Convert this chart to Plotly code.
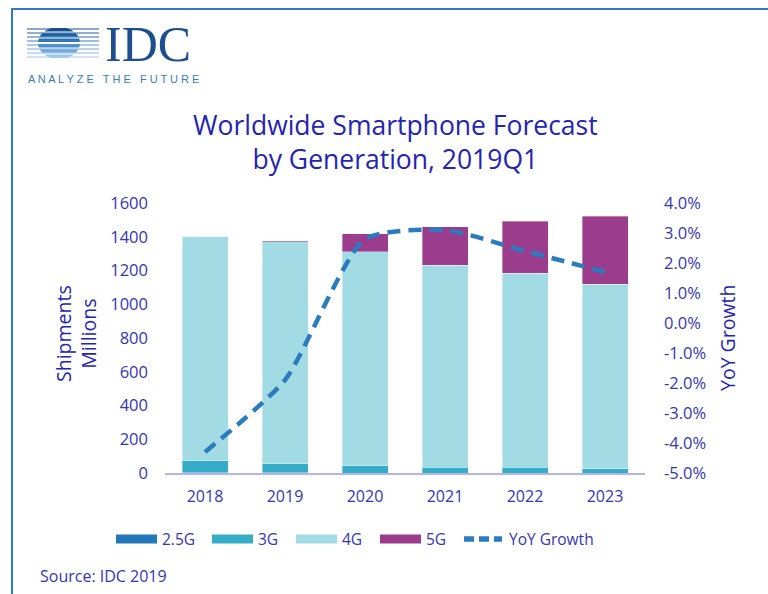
import math
import plotly.graph_objects as go

# Shipments by generation (millions) and YoY growth (%)
years = ["2018", "2019", "2020", "2021", "2022", "2023"]
g25 = [1, 1, 0, 0, 0, 0]
g3 = [73, 53, 43, 33, 33, 26]
g4 = [1330, 1317, 1267, 1197, 1150, 1094]
g5 = [0, 6, 108, 230, 310, 401]
yoy = [-4.3, -1.9, 2.8, 3.1, 2.4, 1.7]

# Right-axis ticks (percent)
pct_ticks = [-5, -4, -3, -2, -1, 0, 1, 2, 3, 4]
pct_labels = ["-5.0%", "-4.0%", "-3.0%", "-2.0%", "-1.0%", "0.0%", "1.0%", "2.0%", "3.0%", "4.0%"]

series_names = ["2.5G", "3G", "4G", "5G"]
series_colors = ["#2278b9", "#36adc8", "#a3dbe5", "#9b3c8c"]
line_color = "#2a7bbf"
text_color = "#3535b8"
title_color = "#2424b4"
font_family = "Open Sans, Noto Sans, sans-serif"

W, H = 768, 594
L, R, T, B = 165, 645, 203, 473

fig = go.Figure()
for name, vals, col in zip(series_names, [g25, g3, g4, g5], series_colors):
    fig.add_trace(go.Bar(
        x=years, y=vals, name=name,
        marker=dict(color=col, line=dict(color="rgba(255,255,255,0.6)", width=0.6)),
        showlegend=False, yaxis="y",
    ))
fig.add_trace(go.Scatter(
    x=years, y=yoy, name="YoY Growth", mode="lines", yaxis="y2",
    line=dict(color=line_color, width=4.5, dash="13px,8px", shape="spline", smoothing=0.6),
    showlegend=False,
))


def px_x(v):
    return (v - L) / (R - L)


def px_y(v):
    return (B - v) / (B - T)


shapes = []
annotations = []

# Frame lines
shapes.append(dict(type="line", xref="paper", yref="paper", x0=px_x(12), x1=px_x(12),
                   y0=px_y(9), y1=px_y(600), line=dict(color="#2e7bc4", width=2)))
shapes.append(dict(type="line", xref="paper", yref="paper", x0=px_x(11), x1=px_x(770),
                   y0=px_y(9), y1=px_y(9), line=dict(color="#2e7bc4", width=2)))

# Logo: striped globe with horizontal rules
cx, cy, rx, ry = 59, 43, 21, 16
band_cols = ["#1b4f8f", "#1d5fa0", "#2a70b5", "#4a8ccb", "#74a9dc", "#9cc5ea"]
n = len(band_cols)
edges = [cy - ry + i * (2 * ry) / n for i in range(n + 1)]
for i, col in enumerate(band_cols):
    y0, y1 = edges[i] + 0.9, edges[i + 1] - 0.9
    pts_l, pts_r = [], []
    steps = 6
    for k in range(steps + 1):
        yy = y0 + (y1 - y0) * k / steps
        dx = rx * math.sqrt(max(0.0, 1 - ((yy - cy) / ry) ** 2))
        pts_r.append((cx + dx, yy))
        pts_l.append((cx - dx, yy))
    pts = pts_r + pts_l[::-1]
    path = "M " + " L ".join(f"{px_x(a):.5f},{px_y(b):.5f}" for a, b in pts) + " Z"
    shapes.append(dict(type="path", xref="paper", yref="paper", path=path,
                       fillcolor=col, line=dict(width=0)))
rule_ys = [29, 33, 37, 41, 45, 49, 53, 57]
rule_cols = ["#1b4f8f", "#1d5fa0", "#2a70b5", "#3a80c2", "#5a98d2", "#74a9dc", "#8cbbe4", "#a4cbec"]
for yy, col in zip(rule_ys, rule_cols):
    shapes.append(dict(type="line", xref="paper", yref="paper", x0=px_x(27), x1=px_x(99),
                       y0=px_y(yy), y1=px_y(yy), line=dict(color=col, width=1)))

annotations.append(dict(text="IDC", xref="paper", yref="paper", x=px_x(103), y=px_y(44),
                        xanchor="left", yanchor="middle", showarrow=False,
                        font=dict(family="Liberation Serif, DejaVu Serif, serif", size=50, color="#1b4f8f")))
annotations.append(dict(text="A N A L Y Z E   T H E   F U T U R E", xref="paper", yref="paper",
                        x=px_x(26), y=px_y(78.5), xanchor="left", yanchor="middle", showarrow=False,
                        font=dict(family="Liberation Sans, Arial, sans-serif", size=11, color="#3b7cc0")))

# Title
annotations.append(dict(text="Worldwide Smartphone Forecast<br>by Generation, 2019Q1", xref="paper", yref="paper",
                        x=px_x(395), y=px_y(142), xanchor="center", yanchor="middle", showarrow=False,
                        font=dict(family=font_family, size=26.5, color=title_color)))

# Axis titles
annotations.append(dict(text="Shipments<br>Millions", xref="paper", yref="paper", x=px_x(76), y=px_y(334),
                        xanchor="center", yanchor="middle", showarrow=False, textangle=-90,
                        font=dict(family=font_family, size=19.5, color=title_color)))
annotations.append(dict(text="YoY Growth", xref="paper", yref="paper", x=px_x(727), y=px_y(338),
                        xanchor="center", yanchor="middle", showarrow=False, textangle=-90,
                        font=dict(family=font_family, size=19.5, color=title_color)))

# Legend
leg_y = 539
leg_items = [(116, 157, "bar", series_colors[0], series_names[0]),
             (212, 253, "bar", series_colors[1], series_names[1]),
             (296, 337, "bar", series_colors[2], series_names[2]),
             (380, 421, "bar", series_colors[3], series_names[3]),
             (462, 504, "line", line_color, "YoY Growth")]
for x0, x1, kind, col, label in leg_items:
    if kind == "bar":
        shapes.append(dict(type="rect", xref="paper", yref="paper", x0=px_x(x0), x1=px_x(x1),
                           y0=px_y(leg_y + 4.5), y1=px_y(leg_y - 4.5), fillcolor=col, line=dict(width=0)))
    else:
        shapes.append(dict(type="line", xref="paper", yref="paper", x0=px_x(x0 + 2), x1=px_x(x1 - 2),
                           y0=px_y(leg_y), y1=px_y(leg_y),
                           line=dict(color=col, width=5.5, dash="10px,5px")))
    annotations.append(dict(text=label, xref="paper", yref="paper", x=px_x(x1 + 3), y=px_y(leg_y),
                            xanchor="left", yanchor="middle", showarrow=False,
                            font=dict(family=font_family, size=15.5, color=text_color)))

annotations.append(dict(text="Source: IDC 2019", xref="paper", yref="paper", x=px_x(38), y=px_y(576),
                        xanchor="left", yanchor="middle", showarrow=False,
                        font=dict(family=font_family, size=16, color=text_color)))

fig.update_layout(
    width=W, height=H,
    margin=dict(l=L, r=W - R, t=T, b=H - B),
    paper_bgcolor="white", plot_bgcolor="white",
    barmode="stack", bargap=0.425,
    showlegend=False,
    font=dict(family=font_family, size=16, color=text_color),
    xaxis=dict(showgrid=False, zeroline=False, showline=True, linecolor="#b3b3ee", linewidth=1.5,
               ticks="", tickfont=dict(size=16, color=text_color), ticklabelstandoff=8),
    yaxis=dict(range=[0, 1600], dtick=200, showgrid=False, zeroline=False, showline=False,
               ticks="", tickfont=dict(size=16.5, color=text_color), ticklabelstandoff=16),
    yaxis2=dict(range=[-5, 4], tickvals=pct_ticks, ticktext=pct_labels, overlaying="y", side="right",
                showgrid=False, zeroline=False, showline=False, ticks="",
                tickfont=dict(size=16.5, color=text_color), ticklabelstandoff=18),
    shapes=shapes, annotations=annotations,
)

fig.write_html("out.html")
